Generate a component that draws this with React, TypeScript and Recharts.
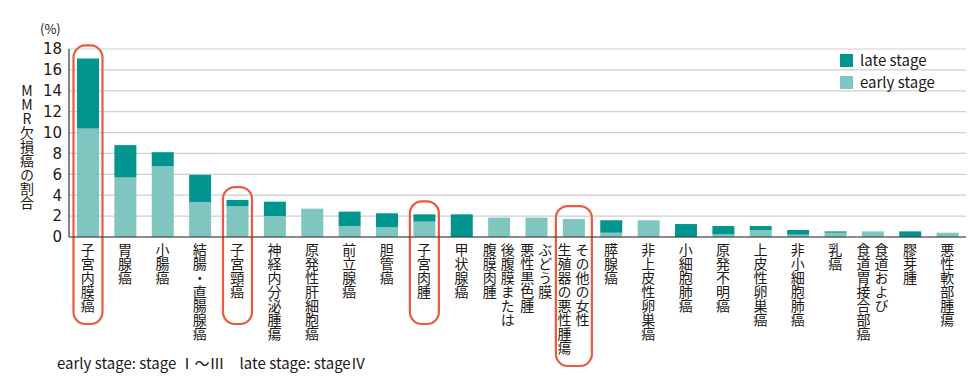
import React from "react";
import { Bar, BarChart, CartesianGrid, XAxis, YAxis } from "recharts";

// MMR欠損癌の割合 (early / late stage)
const categories = [
  "子宮内膜癌", "胃腺癌", "小腸癌", "結腸・直腸腺癌", "子宮頸癌", "神経内分泌腫瘍",
  "原発性肝細胞癌", "前立腺癌", "胆管癌", "子宮肉腫", "甲状腺癌", "後腹膜または腹膜肉腫",
  "ぶどう膜悪性黒色腫", "その他の女性生殖器の悪性腫瘍", "膵腺癌", "非上皮性卵巣癌",
  "小細胞肺癌", "原発不明癌", "上皮性卵巣癌", "非小細胞肺癌", "乳癌",
  "食道および食道胃接合部癌", "膠芽腫", "悪性軟部腫瘍",
];
const earlyValues = [
  10.4, 5.7, 6.77, 3.35, 2.97, 2.0, 2.71, 1.05, 0.93, 1.47, 0, 1.85,
  1.85, 1.72, 0.41, 1.6, 0, 0.25, 0.67, 0.22, 0.41, 0.54, 0, 0.41,
];
const lateValues = [
  6.7, 3.1, 1.35, 2.6, 0.57, 1.38, 0, 1.38, 1.34, 0.7, 2.17, 0,
  0, 0, 1.19, 0, 1.24, 0.8, 0.38, 0.45, 0.13, 0, 0.54, 0,
];
// vertical tick labels, one string per column (first column is the right one)
const labelLines = [
  ["子宮内膜癌"], ["胃腺癌"], ["小腸癌"], ["結腸・直腸腺癌"], ["子宮頸癌"], ["神経内分泌腫瘍"],
  ["原発性肝細胞癌"], ["前立腺癌"], ["胆管癌"], ["子宮肉腫"], ["甲状腺癌"], ["後腹膜または", "腹膜肉腫"],
  ["ぶどう膜", "悪性黒色腫"], ["その他の女性", "生殖器の悪性腫瘍"], ["膵腺癌"], ["非上皮性卵巣癌"],
  ["小細胞肺癌"], ["原発不明癌"], ["上皮性卵巣癌"], ["非小細胞肺癌"], ["乳癌"],
  ["食道および", "食道胃接合部癌"], ["膠芽腫"], ["悪性軟部腫瘍"],
];
const highlighted = ["子宮内膜癌", "子宮頸癌", "子宮肉腫", "その他の女性生殖器の悪性腫瘍"];
const yTicks = [0, 2, 4, 6, 8, 10, 12, 14, 16, 18];

const data = categories.map((name, i) => ({
  name,
  early: earlyValues[i],
  late: lateValues[i],
}));

const FONT = "'Noto Sans CJK JP', 'Noto Sans', sans-serif";
const TEXT = "#231815";
const LATE = "#00958f";
const EARLY = "#80c5bf";
const RING = "#ea5a3d";

const CategoryTick = (props: any) => {
  const { x, y, payload } = props;
  const idx = categories.indexOf(payload.value);
  const cols = labelLines[idx] || [payload.value];
  const n = cols.length;
  return (
    <g>
      {cols.map((s, i) => (
        <text
          key={i}
          x={x + ((n - 1) / 2 - i) * 18}
          y={y + 6}
          fill={TEXT}
          fontSize={14}
          fontFamily={FONT}
          style={{ writingMode: "vertical-rl" } as any}
        >
          {s}
        </text>
      ))}
    </g>
  );
};

// early-stage bar; also draws the red rounded frame for highlighted cancers
const EarlyShape = (props: any) => {
  const { x, y, width, height, payload, fill } = props;
  const base = y + height;
  let ring = null;
  if (highlighted.includes(payload.name) && payload.early > 0 && height > 0) {
    const idx = categories.indexOf(payload.name);
    const ppu = height / payload.early;
    const top = base - (payload.early + payload.late) * ppu - 13;
    const cols = labelLines[idx];
    const w = cols.length > 1 ? 36 : 29;
    const maxLen = Math.max(...cols.map((s) => s.length));
    const bottom = base + 6 + Math.max(5, maxLen) * 14 + 11;
    ring = (
      <rect
        x={x + width / 2 - w / 2}
        y={top}
        width={w}
        height={bottom - top}
        rx={12}
        ry={12}
        fill="none"
        stroke={RING}
        strokeWidth={2.2}
      />
    );
  }
  return (
    <g>
      {height > 0 && <rect x={x} y={y} width={width} height={height} fill={fill} />}
      {ring}
    </g>
  );
};

const legendItems = [
  { label: "late stage", color: LATE },
  { label: "early stage", color: EARLY },
];

export default function App() {
  return (
    <div style={{ position: "absolute", left: 0, top: 0, width: 980, height: 387, background: "#fff", fontFamily: FONT }}>
      <BarChart
        width={980}
        height={387}
        data={data}
        margin={{ top: 49, right: 14, left: 0, bottom: 0 }}
        barSize={22}
      >
        <CartesianGrid vertical={false} stroke="#cfcfcf" strokeWidth={1.2} />
        <XAxis
          dataKey="name"
          interval={0}
          height={150}
          tickLine={false}
          tickSize={0}
          tickMargin={0}
          axisLine={{ stroke: "#333", strokeWidth: 1.2 }}
          tick={<CategoryTick />}
        />
        <XAxis xAxisId="top" orientation="top" dataKey="name" height={0} tick={false} tickLine={false} axisLine={{ stroke: "#777", strokeWidth: 1.2 }} />
        <YAxis
          domain={[0, 18]}
          ticks={yTicks}
          width={69}
          tickLine={false}
          tickSize={5}
          tickMargin={2}
          interval={0}
          axisLine={{ stroke: "#333", strokeWidth: 1.2 }}
          tick={{ fontSize: 15, fill: TEXT, fontFamily: "'DejaVu Sans', sans-serif" }}
        />
        <YAxis yAxisId="right" orientation="right" domain={[0, 18]} width={0} tick={false} tickLine={false} axisLine={{ stroke: "#777", strokeWidth: 1.2 }} />
        <Bar dataKey="early" stackId="a" fill={EARLY} shape={<EarlyShape />} isAnimationActive={false} />
        <Bar dataKey="late" stackId="a" fill={LATE} isAnimationActive={false} />
      </BarChart>
      <div style={{ position: "absolute", left: 40, top: 21, fontSize: 13, lineHeight: "16px", color: TEXT }}>(%)</div>
      <div
        style={{
          position: "absolute",
          left: 20,
          top: 84,
          fontSize: 14,
          lineHeight: "14px",
          color: TEXT,
          writingMode: "vertical-rl",
          textOrientation: "upright",
        }}
      >
        MMR欠損癌の割合
      </div>
      <div style={{ position: "absolute", left: 840, top: 49, fontSize: 15, color: TEXT, lineHeight: "22px" }}>
        {legendItems.map((d) => (
          <div key={d.label} style={{ display: "flex", alignItems: "center", gap: 7 }}>
            <span style={{ width: 13, height: 13, background: d.color, display: "inline-block" }} />
            <span>{d.label}</span>
          </div>
        ))}
      </div>
      <div style={{ position: "absolute", left: 57, top: 352, fontSize: 15, color: TEXT, whiteSpace: "pre" }}>
        {"early stage: stage Ⅰ～Ⅲ　late stage: stageⅣ"}
      </div>
    </div>
  );
}
